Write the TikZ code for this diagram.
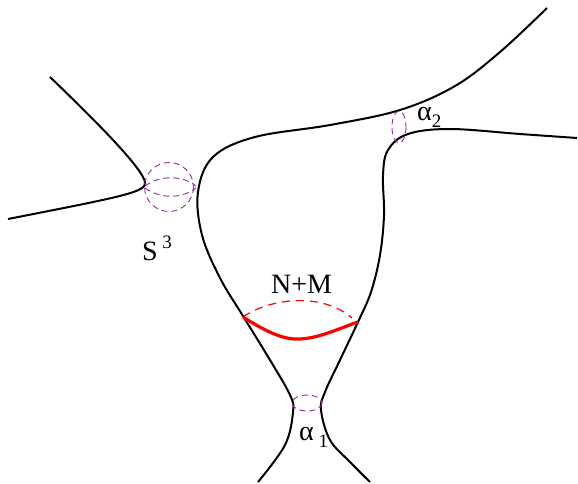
\documentclass[tikz,border=0pt]{standalone}
\usepackage{fontspec}
\setmainfont{Liberation Serif}
\newcommand{\lsub}[1]{\raisebox{-0.28em}{\fontsize{19}{20}\selectfont #1}}
\newcommand{\lsup}[1]{\raisebox{0.42em}{\fontsize{19}{20}\selectfont #1}}
\begin{document}
\begin{tikzpicture}[x=1pt,y=-1pt,
  curve/.style={line width=2pt,black},
  circ/.style={line width=0.9pt,dashed,dash pattern=on 6pt off 4pt,color={rgb,255:red,150;green,40;blue,160}},
  lab/.style={font=\fontsize{28}{30}\selectfont,inner sep=0pt,anchor=base west}]
\useasboundingbox (0,0) rectangle (578,483);
% upper-left branch
\draw[curve] (50,77) .. controls (100,125) and (142,168) .. (145,182) .. controls (147,192) and (125,196) .. (8,219);
% big central curve
\draw[curve] plot[smooth,tension=0.6] coordinates {(547,8) (500,52) (455,86) (400,110) (330,125) (255,137) (213,157) (198,192) (202,235) (220,278) (243,316) (270,360) (290,395) (293,412) (285,445) (258,482)};
% right curve
\draw[curve] plot[smooth,tension=0.6] coordinates {(577,138) (520,134) (450,129) (408,134) (388,150) (383,175) (384,215) (380,255) (371,292) (358,322) (340,360) (325,392) (321,410) (330,440) (350,462) (370,482)};
% S^3 sphere
\draw[circ] (169,187) circle (24.5);
\draw[circ] (145,186) .. controls (160,175) and (182,175) .. (196,186);
\draw[circ] (145,188) .. controls (160,199) and (182,199) .. (196,188);
% alpha circles
\draw[circ] (399,127) ellipse (7 and 16);
\draw[circ] (307,403) ellipse (15 and 8);
% red cycle
\draw[red,line width=1.2pt,dashed,dash pattern=on 8pt off 6pt] (243,317) .. controls (270,298) and (322,292) .. (352,318);
\draw[red,line width=3.2pt] (243,317) .. controls (268,333) and (285,340) .. (300,339) .. controls (320,338) and (340,328) .. (358,322);
% labels
\node[lab] (s3) at (142,260) {S\,\lsup{3}};
\node[lab] (nm) at (271,293) {N+M};
\node[lab] (a2) at (417,120) {α\lsub{2}};
\node[lab] (a1) at (299,440) {α\,\lsub{1}};
\end{tikzpicture}
\end{document}
